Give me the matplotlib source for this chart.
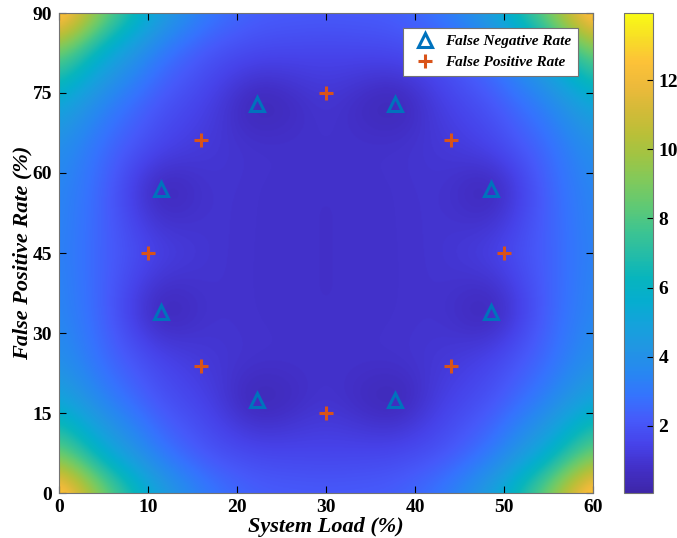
import numpy as np
import matplotlib
matplotlib.use("Agg")
import matplotlib.pyplot as plt
from matplotlib.colors import LinearSegmentedColormap

# grid nodes of the background surface
GRID_X = [0, 5, 11.5, 17, 22.3, 30, 37.7, 43, 48.5, 55, 60]
GRID_Y = [0, 7.5, 17.5, 25, 34, 45, 57, 65, 73, 82.5, 90]
GRID_Z = [
    [13.9, 8.8, 4.7, 3.0, 2.3, 2.2, 2.3, 3.0, 4.7, 8.8, 13.9],
    [8.6, 5.4, 2.9, 1.9, 1.6, 1.5, 1.6, 1.9, 2.9, 5.4, 8.6],
    [5.1, 3.3, 1.9, 1.35, 0.15, 1.0, 0.15, 1.35, 1.9, 3.3, 5.1],
    [4.0, 2.6, 1.5, 1.05, 0.9, 0.85, 0.9, 1.05, 1.5, 2.6, 4.0],
    [3.6, 2.35, 0.2, 0.95, 0.85, 0.8, 0.85, 0.95, 0.2, 2.35, 3.6],
    [3.45, 2.3, 1.4, 0.95, 0.85, 0.8, 0.85, 0.95, 1.4, 2.3, 3.45],
    [3.6, 2.4, 0.2, 1.0, 0.85, 0.8, 0.85, 1.0, 0.2, 2.4, 3.6],
    [4.0, 2.6, 1.5, 1.05, 0.9, 0.85, 0.9, 1.05, 1.5, 2.6, 4.0],
    [5.2, 3.35, 1.95, 1.35, 0.15, 1.05, 0.15, 1.35, 1.95, 3.35, 5.2],
    [8.6, 5.4, 2.9, 1.9, 1.6, 1.5, 1.6, 1.9, 2.9, 5.4, 8.6],
    [13.9, 8.8, 4.7, 3.0, 2.3, 2.2, 2.3, 3.0, 4.7, 8.8, 13.9],
]

# markers
fn_x = [22.3, 37.7, 11.5, 48.5, 11.5, 48.5, 22.3, 37.7]
fn_y = [73, 73, 57, 57, 34, 34, 17.5, 17.5]
fp_x = [30, 44.1, 50, 44.1, 30, 15.9, 10, 15.9]
fp_y = [75, 66.2, 45, 23.8, 15, 23.8, 45, 66.2]

x_ticks = [0, 10, 20, 30, 40, 50, 60]
y_ticks = [0, 15, 30, 45, 60, 75, 90]
cb_ticks = [2, 4, 6, 8, 10, 12]

# parula-like colormap
parula_stops = [
    (0.000, (0.2422, 0.1504, 0.6603)),
    (0.050, (0.2600, 0.1850, 0.7800)),
    (0.100, (0.2770, 0.2600, 0.9150)),
    (0.150, (0.2750, 0.3500, 0.9800)),
    (0.200, (0.2100, 0.4500, 0.9950)),
    (0.250, (0.1540, 0.5300, 0.9450)),
    (0.300, (0.1300, 0.5850, 0.8900)),
    (0.350, (0.0800, 0.6350, 0.8600)),
    (0.400, (0.0200, 0.6800, 0.8100)),
    (0.450, (0.0300, 0.7100, 0.7400)),
    (0.500, (0.1500, 0.7400, 0.6500)),
    (0.550, (0.2500, 0.7700, 0.5600)),
    (0.600, (0.3800, 0.7900, 0.4500)),
    (0.650, (0.5000, 0.7900, 0.3600)),
    (0.700, (0.6200, 0.7700, 0.2700)),
    (0.750, (0.7300, 0.7500, 0.2200)),
    (0.800, (0.8300, 0.7300, 0.2200)),
    (0.850, (0.9300, 0.7300, 0.2300)),
    (0.900, (0.9900, 0.7600, 0.2200)),
    (0.950, (0.9700, 0.8700, 0.1500)),
    (1.000, (0.9769, 0.9839, 0.0805)),
]
parula = LinearSegmentedColormap.from_list("parula", parula_stops, N=256)


def resample_surface(gx, gy, gz, nx=601, ny=901):
    gz = np.array(gz, dtype=float)
    xf = np.linspace(gx[0], gx[-1], nx)
    yf = np.linspace(gy[0], gy[-1], ny)
    tmp = np.array([np.interp(xf, gx, row) for row in gz])
    out = np.array([np.interp(yf, gy, tmp[:, j]) for j in range(nx)]).T
    return out


def smooth(img, sx, sy):
    def kern(s):
        r = int(3 * s)
        t = np.arange(-r, r + 1)
        k = np.exp(-0.5 * (t / s) ** 2)
        return k / k.sum(), r
    kx, rx = kern(sx)
    ky, ry = kern(sy)
    p = np.pad(img, ((0, 0), (rx, rx)), mode="edge")
    img = np.array([np.convolve(row, kx, mode="valid") for row in p])
    p = np.pad(img, ((ry, ry), (0, 0)), mode="edge")
    img = np.array([np.convolve(p[:, j], ky, mode="valid") for j in range(p.shape[1])]).T
    return img


field = smooth(resample_surface(GRID_X, GRID_Y, GRID_Z), 18, 27)

plt.rcParams['font.family'] = ['Liberation Serif', 'DejaVu Serif']
plt.rcParams['font.weight'] = 'bold'

fig = plt.figure(figsize=(6.77, 5.38), dpi=100)
ax = fig.add_axes([59 / 677, 45 / 538, 534 / 677, 480 / 538])
cax = fig.add_axes([624 / 677, 45 / 538, 29 / 677, 480 / 538])

im = ax.imshow(field, origin="lower", extent=[0, 60, 0, 90], aspect="auto",
               cmap=parula, vmin=0.05, vmax=13.95, interpolation="bilinear")

ax.plot(fn_x, fn_y, linestyle="none", marker="^", markersize=10, mfc="none",
        mec=(0.0, 0.447, 0.741), mew=2.2, label="False Negative Rate")
ax.plot(fp_x, fp_y, linestyle="none", marker="+", markersize=10,
        mec=(0.85, 0.325, 0.098), mew=2.2, label="False Positive Rate")

ax.set_xlim(0, 60)
ax.set_ylim(0, 90)
ax.set_xticks(x_ticks)
ax.set_yticks(y_ticks)
ax.tick_params(direction="in", top=True, right=True, length=5, width=0.8,
               labelsize=14)
ax.tick_params(axis="x", pad=4)
ax.tick_params(axis="y", pad=5)
for lab in ax.get_xticklabels() + ax.get_yticklabels():
    lab.set_fontweight("bold")
for s in ax.spines.values():
    s.set_color("0.45")
    s.set_linewidth(0.8)

ax.set_xlabel("System Load (%)", fontsize=16, fontweight="bold", style="italic", labelpad=1)
ax.set_ylabel("False Positive Rate (%)", fontsize=16, fontweight="bold", style="italic", labelpad=0)

leg = ax.legend(loc="upper right", bbox_to_anchor=(0.9725, 0.969), borderaxespad=0,
                fancybox=False, framealpha=1, edgecolor="0.45", handletextpad=0.3,
                borderpad=0.45, labelspacing=0.45,
                prop={"family": "Liberation Serif", "weight": "bold", "style": "italic", "size": 11})
leg.get_frame().set_linewidth(0.8)

cb = fig.colorbar(im, cax=cax, ticks=cb_ticks)
cb.outline.set_edgecolor("0.45")
cb.outline.set_linewidth(0.8)
cax.tick_params(direction="in", length=4, width=0.8, labelsize=14, pad=4)
for lab in cax.get_yticklabels():
    lab.set_fontweight("bold")

fig.savefig("out.png", dpi=100)
